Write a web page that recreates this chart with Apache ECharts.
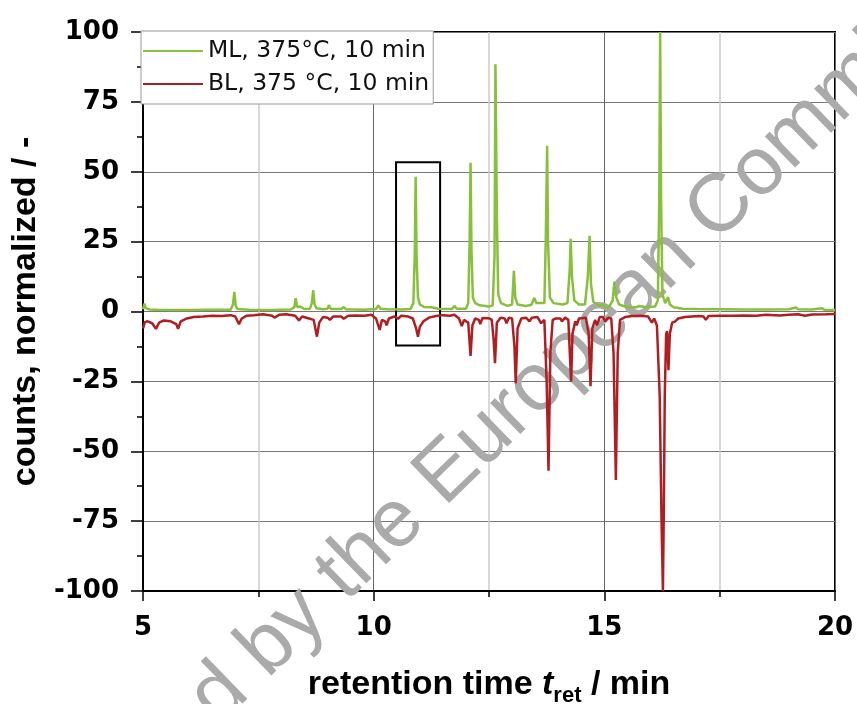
<!DOCTYPE html>
<html>
<head>
<meta charset="utf-8">
<script src="https://cdn.jsdelivr.net/npm/echarts@6/dist/echarts.min.js"></script>
<style>
	html, body { margin: 0; padding: 0; background: #fff; }
	#chart { width: 857px; height: 704px; }
</style>
</head>
<body>
<div id="chart"></div>
<script>
// series names
var seriesNames = ['ML, 375°C, 10 min', 'BL, 375 °C, 10 min'];

// ML, retention time [min] / normalized counts
var mlPoints = [
	[5.00,0.8],[5.03,2.8],[5.06,1.2],[5.10,1.8],[5.14,0.7],[5.30,0.6],[5.60,0.5],[6.00,0.5],
	[6.40,0.6],[6.90,0.6],[6.95,2.5],[6.98,7.0],[7.01,2.0],[7.05,0.9],[7.30,0.6],[7.80,0.5],
	[8.20,0.7],[8.28,1.5],[8.31,4.8],[8.34,1.6],[8.40,1.8],[8.50,0.9],[8.62,1.0],[8.66,3.0],
	[8.69,7.6],[8.72,2.5],[8.76,1.2],[8.90,0.8],[9.00,1.0],[9.03,2.3],[9.07,0.9],[9.30,0.9],
	[9.35,1.6],[9.40,0.8],[9.80,0.6],[10.05,0.9],[10.10,2.2],[10.15,1.0],[10.30,0.8],[10.60,0.7],
	[10.80,0.9],[10.86,3.0],[10.89,20],[10.91,48.2],[10.93,20],[10.96,5.0],[11.00,2.5],[11.10,1.6],
	[11.25,1.5],[11.40,1.0],[11.70,0.9],[11.75,2.0],[11.80,1.0],[12.00,1.0],[12.05,3.0],[12.08,25],
	[12.10,53.2],[12.12,22],[12.15,5.0],[12.20,3.0],[12.30,2.2],[12.50,1.8],[12.58,2.2],[12.62,20],
	[12.64,88.5],[12.67,35],[12.70,6.0],[12.76,3.0],[12.90,2.0],[13.00,2.5],[13.04,14.6],[13.07,5.0],
	[13.12,2.5],[13.30,2.0],[13.42,2.4],[13.48,4.8],[13.53,3.0],[13.70,3.0],[13.73,25],[13.76,59.3],
	[13.78,25],[13.82,5.0],[13.90,3.0],[14.10,2.5],[14.20,3.0],[14.25,15],[14.27,26],[14.30,12],
	[14.35,4.0],[14.45,2.5],[14.58,2.5],[14.64,12],[14.68,27.1],[14.71,10],[14.76,3.5],[14.90,2.0],
	[14.98,2.5],[15.03,1.5],[15.10,1.5],[15.18,4.0],[15.22,10.7],[15.26,5.0],[15.32,2.5],[15.50,1.5],
	[15.70,1.5],[15.75,2.0],[15.90,1.5],[16.10,1.8],[16.16,4.0],[16.19,40],[16.21,100],[16.23,40],
	[16.26,6.0],[16.32,3.0],[16.38,5.2],[16.42,2.5],[16.50,1.5],[16.70,1.0],[17.00,0.9],[17.50,0.8],
	[18.00,0.7],[18.50,0.7],[19.00,0.8],[19.15,1.4],[19.20,0.8],[19.50,0.7],[19.72,1.2],[19.77,0.6],
	[20.00,0.5]
];

// BL, retention time [min] / normalized counts (plotted negative)
var blPoints = [
	[5.00,-6.0],[5.04,-3.8],[5.10,-3.5],[5.20,-4.2],[5.28,-6.2],[5.35,-4.0],[5.45,-3.2],[5.60,-3.5],
	[5.72,-4.5],[5.76,-6.2],[5.82,-3.5],[5.95,-2.5],[6.10,-2.0],[6.30,-1.8],[6.50,-1.5],[6.70,-1.6],
	[6.90,-1.3],[7.00,-1.8],[7.08,-4.5],[7.14,-2.5],[7.25,-1.5],[7.40,-1.3],[7.60,-1.0],[7.80,-1.5],
	[7.85,-2.2],[7.95,-1.2],[8.10,-1.0],[8.30,-1.5],[8.38,-3.2],[8.45,-1.8],[8.60,-2.5],[8.70,-3.0],
	[8.77,-9.0],[8.82,-4.0],[8.90,-2.0],[9.00,-2.2],[9.05,-3.0],[9.12,-1.8],[9.30,-1.8],[9.35,-2.6],
	[9.45,-1.5],[9.60,-1.4],[9.80,-1.5],[9.95,-1.2],[10.05,-2.5],[10.13,-6.6],[10.18,-3.0],[10.25,-3.5],
	[10.28,-5.0],[10.33,-2.5],[10.45,-1.8],[10.53,-2.6],[10.60,-1.5],[10.75,-1.8],[10.85,-2.5],[10.92,-6.0],
	[10.96,-9.0],[11.00,-5.5],[11.08,-3.5],[11.20,-2.2],[11.35,-1.6],[11.50,-1.3],[11.65,-1.5],[11.75,-1.2],
	[11.85,-2.5],[11.91,-5.2],[11.96,-3.0],[12.05,-4.0],[12.10,-15.9],[12.14,-5.0],[12.20,-2.5],[12.28,-3.0],
	[12.31,-4.5],[12.36,-2.3],[12.50,-2.4],[12.56,-3.0],[12.60,-10],[12.63,-18.5],[12.67,-4.0],[12.75,-2.2],
	[12.84,-2.5],[12.88,-4.2],[12.93,-2.2],[13.00,-2.5],[13.05,-12],[13.08,-25.7],[13.12,-6.0],[13.20,-2.5],
	[13.30,-2.2],[13.38,-3.5],[13.43,-2.2],[13.55,-2.0],[13.63,-4.2],[13.70,-3.0],[13.75,-25],[13.79,-57],
	[13.83,-15],[13.88,-3.0],[13.95,-2.5],[14.05,-2.5],[14.08,-3.6],[14.15,-2.2],[14.22,-3.0],[14.26,-18],
	[14.28,-25.1],[14.31,-8.0],[14.37,-3.5],[14.40,-5.0],[14.45,-2.5],[14.60,-2.2],[14.66,-8.0],[14.70,-26.7],
	[14.74,-6.0],[14.80,-3.0],[14.84,-5.0],[14.90,-2.0],[14.97,-2.0],[15.02,-3.5],[15.08,-2.2],[15.15,-2.5],
	[15.20,-15],[15.25,-60.3],[15.29,-15],[15.34,-3.0],[15.45,-2.0],[15.60,-1.6],[15.80,-1.5],[15.95,-1.8],
	[16.03,-4.0],[16.08,-2.5],[16.14,-5.0],[16.20,-30],[16.24,-75],[16.27,-100],[16.29,-70],[16.31,-30],
	[16.34,-8.0],[16.36,-7.0],[16.39,-21],[16.42,-8.0],[16.47,-4.0],[16.53,-3.6],[16.60,-2.5],[16.75,-2.0],
	[16.90,-1.8],[17.05,-1.6],[17.15,-1.8],[17.20,-3.0],[17.26,-1.6],[17.50,-1.5],[17.80,-1.5],[18.00,-1.4],
	[18.30,-1.5],[18.50,-1.2],[18.80,-1.4],[19.00,-1.2],[19.20,-1.0],[19.35,-1.5],[19.50,-1.1],[19.80,-1.0],
	[20.00,-0.9]
];

// highlighted region: [t start, t end], [counts top, counts bottom]
var boxTime = [10.485, 11.44];
var boxCounts = [53.4, -12.2];

var chart = echarts.init(document.getElementById('chart'));

var tickFont = { fontFamily: 'DejaVu Sans', fontWeight: 'bold', fontSize: 26, color: '#000' };

var option = {
	animation: false,
	backgroundColor: '#fff',
	grid: {
		left: 143, right: 22, top: 32, bottom: 113,
		outerBoundsMode: 'none',
		show: true, borderColor: '#000', borderWidth: 2, backgroundColor: 'transparent'
	},
	legend: {
		orient: 'vertical',
		left: 141, top: 31,
		padding: [8, 4, 8, 2],
		itemGap: 9,
		itemWidth: 60, itemHeight: 2,
		icon: 'rect',
		backgroundColor: '#fff',
		borderColor: '#999', borderWidth: 1,
		textStyle: { fontFamily: 'DejaVu Sans', fontSize: 23.5, color: '#111' },
		data: seriesNames
	},
	xAxis: {
		type: 'value', min: 5, max: 20, interval: 5,
		name: '{a|retention time }{i|t}{s|ret}{a| / min}',
		nameLocation: 'middle', nameGap: 72,
		nameTextStyle: {
			rich: {
				a: { fontFamily: 'Liberation Sans', fontWeight: 'bold', fontSize: 34, lineHeight: 44, color: '#000' },
				i: { fontFamily: 'Liberation Sans', fontWeight: 'bold', fontStyle: 'italic', fontSize: 34, lineHeight: 44, color: '#000' },
				s: { fontFamily: 'Liberation Sans', fontWeight: 'bold', fontSize: 22, lineHeight: 22, verticalAlign: 'bottom', color: '#000' }
			}
		},
		axisLine: { onZero: false, lineStyle: { color: '#000', width: 2 } },
		axisTick: { inside: false, length: 10, lineStyle: { color: '#000', width: 1.5 } },
		minorTick: { show: true, splitNumber: 2, length: 6, lineStyle: { color: '#000', width: 1.5 } },
		axisLabel: Object.assign({ margin: 24 }, tickFont),
		splitLine: { show: true, lineStyle: { color: '#666', width: 1 } },
		minorSplitLine: { show: true, lineStyle: { color: '#ccc', width: 1.5 } }
	},
	yAxis: {
		type: 'value', min: -100, max: 100, interval: 25,
		name: 'counts, normalized / -',
		nameLocation: 'middle', nameRotate: 90, nameGap: 94,
		nameTextStyle: { fontFamily: 'Liberation Sans', fontWeight: 'bold', fontSize: 34, color: '#000' },
		axisLine: { onZero: false, lineStyle: { color: '#000', width: 2 } },
		axisTick: { inside: false, length: 12, lineStyle: { color: '#000', width: 1.5 } },
		minorTick: { show: true, splitNumber: 2, length: 6, lineStyle: { color: '#000', width: 1.5 } },
		axisLabel: Object.assign({ margin: 24 }, tickFont),
		splitLine: { show: true, lineStyle: { color: '#777', width: 1 } }
	},
	graphic: [
		{
			type: 'text', z: 1, x: 457, y: 521, rotation: 0.77,
			style: { text: 'European Commission', fontFamily: 'Liberation Sans', fontSize: 82,
				fill: '#aaa', align: 'left', verticalAlign: 'bottom' }
		},
		{
			type: 'text', z: 1, x: 457, y: 521, rotation: 0.77,
			style: { text: 'Downloaded by the ', fontFamily: 'Liberation Sans', fontSize: 82,
				fill: '#aaa', align: 'right', verticalAlign: 'bottom' }
		}
	],
	series: [
		{
			name: seriesNames[0], type: 'line', data: mlPoints,
			showSymbol: false, symbol: 'none', z: 3,
			lineStyle: { color: '#88bf3b', width: 2.5 }, itemStyle: { color: '#88bf3b' }
		},
		{
			name: seriesNames[1], type: 'line', data: blPoints,
			showSymbol: false, symbol: 'none', z: 3,
			lineStyle: { color: '#b01e22', width: 2.5 }, itemStyle: { color: '#b01e22' },
			markArea: {
				silent: true,
				itemStyle: { color: 'transparent', borderColor: '#000', borderWidth: 2 },
				data: [[{ coord: [boxTime[0], boxCounts[0]] }, { coord: [boxTime[1], boxCounts[1]] }]]
			}
		}
	]
};

chart.setOption(option);
</script>
</body>
</html>
